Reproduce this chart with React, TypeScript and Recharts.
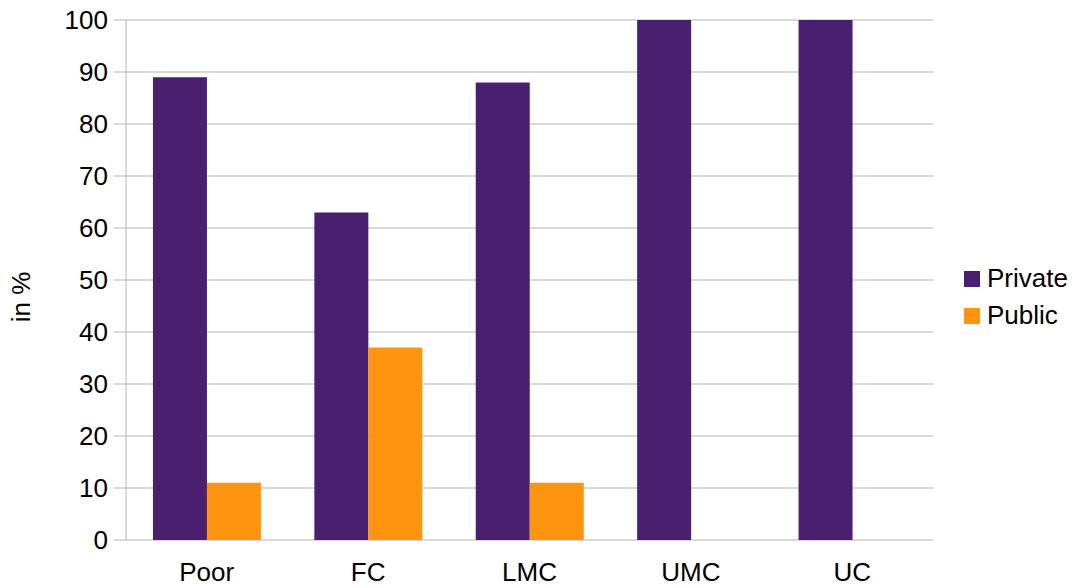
import { BarChart, Bar, XAxis, YAxis, CartesianGrid, ReferenceLine } from 'recharts'

const categories = ['Poor', 'FC', 'LMC', 'UMC', 'UC']
const privateShare = [89, 63, 88, 100, 100]
const publicShare = [11, 37, 11, 0, 0]
const yTicks = [0, 10, 20, 30, 40, 50, 60, 70, 80, 90, 100]

const series = [
  { key: 'private', label: 'Private', color: '#4b1f6f' },
  { key: 'public', label: 'Public', color: '#ff950e' },
]

const data = categories.map((name, i) => ({
  name,
  private: privateShare[i],
  public: publicShare[i],
}))

const FONT = '"Liberation Sans", Arial, sans-serif'
const GRID = '#b3b3b3'
const FS = 26

export default function App() {
  return (
    <div style={{ position: 'absolute', left: 0, top: 0, width: 1078, height: 587, background: '#fff', fontFamily: FONT }}>
      <BarChart
        width={1078}
        height={587}
        data={data}
        margin={{ top: 20, right: 145, bottom: 0, left: 0 }}
        barCategoryGap="16.7%"
        barGap={0}
      >
        <CartesianGrid stroke={GRID} vertical={false} />
        {/* tick marks sit on category boundaries, so a hidden number axis draws them */}
        <XAxis
          xAxisId="b"
          type="number"
          domain={[0, 5]}
          ticks={[0, 1, 2, 3, 4, 5]}
          allowDataOverflow
          height={0}
          tickSize={10}
          tickFormatter={() => ''}
          stroke={GRID}
        />
        <XAxis
          xAxisId="cat"
          dataKey="name"
          height={47}
          axisLine={false}
          tickLine={false}
          tickSize={10}
          tickMargin={13}
          tick={{ fontSize: FS, fill: '#000', fontFamily: FONT }}
        />
        <YAxis
          domain={[0, 100]}
          ticks={yTicks}
          width={126}
          tickSize={12}
          tickMargin={6}
          stroke={GRID}
          tick={{ fontSize: FS, fill: '#000', fontFamily: FONT }}
          label={() => (
            <text
              x={21}
              y={297}
              transform="rotate(-90 21 297)"
              textAnchor="middle"
              dominantBaseline="central"
              fontSize={FS}
              fontFamily={FONT}
              fill="#000"
            >
              in %
            </text>
          )}
        />
        <ReferenceLine xAxisId="b" x={5} stroke={GRID} />
        {series.map((s) => (
          <Bar key={s.key} xAxisId="cat" dataKey={s.key} name={s.label} fill={s.color} isAnimationActive={false} />
        ))}
      </BarChart>
      <div style={{ position: 'absolute', left: 964, top: 260 }}>
        {series.map((s) => (
          <div key={s.key} style={{ display: 'flex', alignItems: 'center', height: 37 }}>
            <span style={{ width: 16, height: 16, background: s.color, display: 'inline-block', marginRight: 7 }} />
            <span style={{ fontSize: FS, color: '#000' }}>{s.label}</span>
          </div>
        ))}
      </div>
    </div>
  )
}
